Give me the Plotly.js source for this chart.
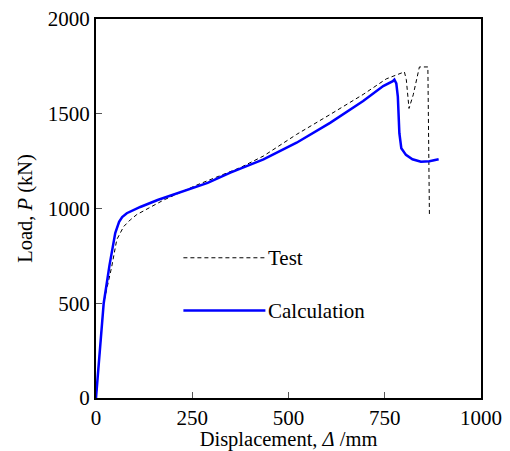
<!DOCTYPE html>
<html>
<head>
<meta charset="utf-8">
<script src="https://cdn.plot.ly/plotly-3.0.1.min.js"></script>
<style>html,body{margin:0;padding:0;background:#fff;}#chart{width:510px;height:451px;}</style>
</head>
<body>
<div id="chart"></div>
<script>
// Test curve (dashed)
var testX = [0, 20, 41, 54, 72, 89, 106, 140, 176, 262, 348, 375, 435, 521, 608, 694, 754, 801, 806, 813, 824, 832, 840, 862, 864, 866];
var testY = [0, 502, 695, 836, 905, 940, 968, 1005, 1045, 1124, 1195, 1216, 1277, 1391, 1496, 1602, 1684, 1721, 1680, 1528, 1600, 1677, 1747, 1747, 1300, 970];
// Calculation curve (solid blue)
var calcX = [0, 20, 35, 50, 60, 68, 80, 100, 115, 160, 219, 290, 349, 435, 521, 608, 694, 746, 771, 775, 780, 784, 788, 793, 805, 822, 844, 866, 890];
var calcY = [0, 500, 700, 870, 930, 955, 975, 995, 1008, 1045, 1085, 1135, 1189, 1259, 1347, 1452, 1567, 1646, 1672, 1680, 1660, 1590, 1397, 1318, 1283, 1260, 1247, 1249, 1260];
var xTicks = [0, 250, 500, 750, 1000];
var yTicks = [0, 500, 1000, 1500, 2000];
var legendNames = ['Test', 'Calculation'];

var font = {family: '"Liberation Serif", "Times New Roman", serif', size: 21, color: '#000'};
var titleFont = {family: '"Liberation Serif", "Times New Roman", serif', size: 20.5, color: '#000'};

var traces = [
  {x: testX, y: testY, mode: 'lines', name: legendNames[0], line: {color: '#000', width: 1, dash: '4px,3px'}, showlegend: false},
  {x: calcX, y: calcY, mode: 'lines', name: legendNames[1], line: {color: '#0000ff', width: 2.5}, showlegend: false}
];

var axisCommon = {
  showgrid: false, zeroline: false, showline: true, linecolor: '#000', linewidth: 2,
  mirror: true, ticks: 'inside', ticklen: 6, tickwidth: 1, tickcolor: '#555',
  tickfont: font
};

var layout = {
  width: 510, height: 451,
  margin: {l: 95.5, r: 28.5, t: 19, b: 52.5},
  paper_bgcolor: '#fff', plot_bgcolor: '#fff',
  font: font,
  xaxis: Object.assign({}, axisCommon, {
    range: [0, 1000], tickvals: xTicks, ticktext: xTicks.map(String),
    title: {text: 'Displacement, <i>Δ</i> /mm', font: titleFont, standoff: 5}
  }),
  yaxis: Object.assign({}, axisCommon, {
    range: [0, 2000], tickvals: yTicks, ticktext: yTicks.map(String),
    title: {text: 'Load, <i>P</i> (kN)', font: titleFont, standoff: 10}
  }),
  shapes: [
    {type: 'line', xref: 'paper', yref: 'paper', x0: 0.227, x1: 0.44, y0: 0.370, y1: 0.370, line: {color: '#000', width: 1, dash: '4px,3px'}},
    {type: 'line', xref: 'paper', yref: 'paper', x0: 0.227, x1: 0.44, y0: 0.2306, y1: 0.2306, line: {color: '#0000ff', width: 2.5}}
  ],
  annotations: [
    {xref: 'paper', yref: 'paper', x: 0.442, y: 0.370, text: legendNames[0], showarrow: false, xanchor: 'left', yanchor: 'middle', font: font},
    {xref: 'paper', yref: 'paper', x: 0.442, y: 0.2306, text: legendNames[1], showarrow: false, xanchor: 'left', yanchor: 'middle', font: font}
  ]
};

Plotly.newPlot('chart', traces, layout, {displayModeBar: false, staticPlot: true});
</script>
</body>
</html>
